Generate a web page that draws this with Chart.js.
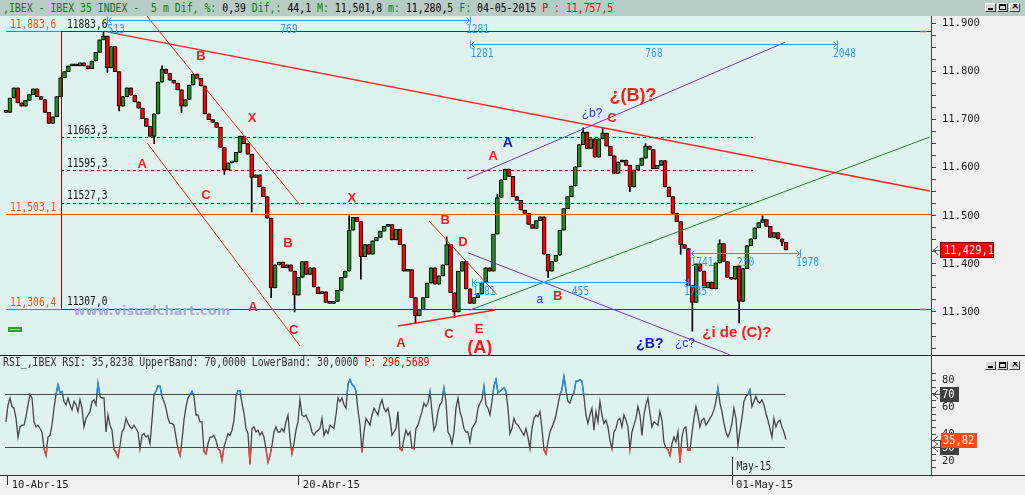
<!DOCTYPE html>
<html lang="es">
<head>
<meta charset="utf-8">
<title>IBEX 35 - 5 m</title>
<script src="https://cdn.jsdelivr.net/npm/chart.js@4.4.1/dist/chart.umd.min.js"></script>
<style>
  html, body { margin:0; padding:0; }
  body { width:1025px; height:495px; overflow:hidden; position:relative; background:#f0f0f0; }
  #hdr { position:absolute; left:0; top:0; width:1025px; height:16px; background:#b8ccc6; }
  .txt { position:absolute; white-space:pre; font-family:"DejaVu Sans Mono", monospace; font-size:12px; line-height:14px; transform:scaleX(0.82); transform-origin:0 0; }
  .g { color:#008000; } .k { color:#000; } .r { color:#ff0000; } .d { color:#333; }
  canvas { position:absolute; left:0; display:block; }
  #c1 { top:16px; width:1025px; height:339px; }
  #c2 { top:356px; width:1025px; height:139px; }
  #sep { position:absolute; left:0; top:355px; width:1025px; height:1px; background:#222; }
  .btn { position:absolute; width:9px; height:7px; background:#d8d8d8; border:1px solid; border-color:#fff #404040 #404040 #fff; overflow:hidden; }
</style>
</head>
<body>
<div id="hdr"></div>
<div class="txt" style="left:3px;top:1px"><span class="g">,IBEX - IBEX 35 INDEX -  5 m Dif, %:</span><span class="k"> 0,39</span><span class="g"> Dif,:</span><span class="k"> 44,1</span><span class="g"> M:</span><span class="k"> 11,501,8</span><span class="g"> m:</span><span class="k"> 11,280,5</span><span class="g"> F:</span><span class="k"> 04-05-2015</span><span class="r"> P : 11,757,5</span></div>
<div class="btn" style="left:985px;top:3px"><div style="position:absolute;left:2px;top:4px;width:5px;height:2px;background:#000"></div></div>
<div class="btn" style="left:997px;top:3px"><div style="position:absolute;left:1px;top:0;width:5px;height:3px;border:1px solid #000;border-top-width:2px"></div></div>
<div class="btn" style="left:1009px;top:3px"><div style="position:absolute;left:1px;top:-4px;font:bold 10px 'DejaVu Sans';color:#000">×</div></div>
<canvas id="c1" width="1025" height="339"></canvas>
<div id="sep"></div>
<canvas id="c2" width="1025" height="139"></canvas>
<div class="txt d" style="left:3px;top:355px">RSI_,IBEX RSI: 35,8238 UpperBand: 70,0000 LowerBand: 30,0000 <span class="r">P: 296,5689</span></div>
<div class="btn" style="left:985px;top:361px"><div style="position:absolute;left:2px;top:4px;width:5px;height:2px;background:#000"></div></div>
<div class="btn" style="left:997px;top:361px"><div style="position:absolute;left:1px;top:0;width:5px;height:3px;border:1px solid #000;border-top-width:2px"></div></div>
<div class="btn" style="left:1009px;top:361px"><div style="position:absolute;left:1px;top:-4px;font:bold 10px 'DejaVu Sans';color:#000">×</div></div>

<script>
// ---------------- DATA ----------------
const openStart = 11718;
const close = [
  11715, 11745, 11766, 11735, 11728, 11740, 11752, 11764, 11748, 11742,
  11715, 11692, 11706, 11748, 11787, 11800, 11812, 11815, 11812, 11818,
  11812, 11806, 11822, 11840, 11866, 11874, 11808, 11852, 11800, 11728,
  11748, 11766, 11751, 11737, 11724, 11702, 11686, 11665, 11712, 11778,
  11805, 11796, 11782, 11776, 11762, 11728, 11742, 11772, 11795, 11786,
  11770, 11712, 11700, 11694, 11684, 11642, 11596, 11610, 11612, 11632,
  11666, 11650, 11628, 11580, 11585, 11560, 11540, 11495, 11350, 11398,
  11404, 11392, 11398, 11385, 11335, 11372, 11405, 11378, 11392, 11352,
  11338, 11342, 11320, 11318, 11322, 11345, 11372, 11385, 11470, 11497,
  11488, 11415, 11440, 11420, 11448, 11455, 11468, 11478, 11482, 11450,
  11472, 11440, 11385, 11388, 11330, 11292, 11305, 11330, 11360, 11392,
  11358, 11375, 11398, 11440, 11340, 11300, 11385, 11405, 11348, 11318,
  11330, 11338, 11362, 11392, 11385, 11462, 11538, 11575, 11597, 11582,
  11540, 11532, 11512, 11505, 11482, 11474, 11490, 11498, 11420, 11385,
  11405, 11418, 11470, 11515, 11540, 11562, 11602, 11648, 11674, 11640,
  11660, 11622, 11660, 11672, 11645, 11625, 11588, 11612, 11616, 11605,
  11560, 11595, 11605, 11620, 11645, 11638, 11598, 11605, 11615, 11560,
  11540, 11505, 11488, 11440, 11432, 11355, 11320, 11400, 11385, 11350,
  11362, 11348, 11402, 11442, 11405, 11372, 11368, 11395, 11322, 11390,
  11438, 11452, 11475, 11486, 11492, 11478, 11455, 11465, 11452, 11445,
  11429.1
];
// notable wick extremes [bar index, price]
const wickHigh = [[25,11883.6],[40,11812],[88,11500],[113,11456],[126,11545],[148,11683],[153,11684],[164,11650],[183,11450],[194,11500]];
const wickLow = [[26,11798],[29,11718],[38,11650],[45,11715],[56,11586],[63,11508],[68,11330],[74,11300],[91,11368],[105,11276],[115,11288],[125,11398],[139,11372],[160,11550],[173,11420],[176,11260],[188,11277],[199,11438]];
// RSI samples (1.95 samples per price bar)
const rsiPerBar = 1.95;
const rsi = [
  49.2, 61.9, 67, 60.6, 59.4, 51.8, 37.8, 45.4, 46.7, 46.7,
  53, 61.9, 69.5, 67, 49.2, 45.4, 46.7, 44.2, 41.6, 29,
  23.9, 37.8, 39.1, 46.7, 59.4, 69.5, 77.1, 70.8, 72, 64.4,
  61.9, 67, 61.9, 58.1, 64.4, 61.9, 56.8, 65.7, 59.4, 45.4,
  51.8, 54.3, 56.8, 64.4, 65.7, 61.9, 78.4, 68.2, 67, 67,
  41.6, 54.3, 46.7, 42.9, 28.5, 26.5, 22.7, 31.5, 41.6, 44.2,
  51.8, 48, 45.4, 44.2, 46.7, 44.2, 41.6, 29, 39.1, 40.4,
  37.8, 39.1, 32.8, 50.5, 69.5, 72, 75.8, 75.8, 68.2, 64.4,
  59.4, 51.8, 48, 48, 46.7, 37.8, 29, 23.9, 35.3, 50.5,
  60.6, 67, 69.5, 72, 68.2, 54.3, 54.3, 49.2,
  49.2, 27, 25.2, 32.8, 37.8, 37.8, 39.1, 35.3, 29, 27.7,
  20.1, 30.3, 35.3, 40.4, 39.1, 42.9, 50.5, 68.2, 72.5, 72.5,
  63.2, 55.6, 44.2, 40.4, 17.6, 44.2, 45.4, 41.6, 42.9, 39.1,
  41.6, 37.8, 29, 18.9, 23.9, 31.5, 41.6, 45.4, 41.6, 41.6,
  44.2, 41.6, 49.2, 54.3, 36.6, 25.2, 32.8, 42.9, 49.2, 65.7,
  54.3, 53, 54.3, 50.5, 48, 41.6, 39.1, 41.6, 42.9, 44.2,
  51.8, 39.1, 42.9, 40.4, 46.7, 45.4, 44.2, 54.3, 67, 64.4,
  67, 61.9, 59.4, 77.1, 80.9, 77.1, 75.8, 72, 58.1, 46.7,
  26.5, 41.6, 51.8, 49.2, 46.7, 54.3, 59.4, 56.8, 54.3, 61.9,
  65.7, 59.4, 56.8, 59.4, 51.8, 39.1, 41.6,
  44.2, 56.8, 29, 27.7, 36.6, 42.9, 39.1, 41.6, 29.5, 29,
  44.2, 46.7, 51.8, 56.8, 63.2, 60.6, 63.2, 72, 56.8, 42.9,
  46.7, 56.8, 61.9, 64.4, 74.6, 64.4, 41.6, 39.1, 32.8, 41.6,
  59.4, 67, 56.8, 51.8, 44.2, 41.6, 41.6, 34.1, 44.2, 46.7,
  49.2, 59.4, 63.2, 65.7, 75.8, 61.9, 59.4, 54.3, 64.4, 75.8,
  80.9, 70.8, 72, 73.3, 74.6, 72, 59.4, 40.4, 44.2, 51.8,
  48, 46.7, 44.2, 41.6, 39.1, 44.2, 37.8, 29, 44.2, 51.8,
  54.3, 53, 56.8, 44.2, 28, 25.2, 34.1, 41.6, 45.4, 49.2,
  54.3, 61.9, 69.5, 73.3, 83.4, 73.3, 64.4, 63.2, 68.2, 70.8,
  79.6, 79.6, 80.9, 79.6, 68.2, 54.3, 48, 54.3,
  59.4, 42.9, 56.8, 49.2, 64.4, 54.3, 48, 50.5, 45.4, 35.3,
  29, 41.6, 44.2, 50.5, 51.8, 45.4, 54.3, 50.5, 45.4, 28.5,
  41.6, 46.7, 51.8, 60.6, 54.3, 39.1, 54.3, 61.9, 67, 55.6,
  45.4, 49.2, 48, 46.7, 56.8, 50.5, 34.1, 29.5, 28.5, 23.9,
  32.8, 37.8, 34.1, 41.6, 18.9, 37.8, 44.2, 45.4, 28, 27.7,
  40.4, 51.8, 60.6, 54.3, 45.4, 50.5, 51.8, 46.7, 49.2, 51.8,
  54.3, 58.1, 64.4, 74.6, 63.2, 56.8, 48, 41.6, 37.8, 41.6,
  48, 59.4, 51.8, 31.5, 42.9, 51.8, 64.4, 68.2, 69.5, 73.3,
  60.6, 64.4, 68.2, 64.4, 63.2, 65.7, 61.9, 55.6, 50.5, 44.2,
  37.8, 51.8, 45.4, 49.2, 50.5, 45.4, 41.6, 35.82
];
const dateLabels = ['10-Abr-15', '20-Abr-15', '01-May-15'];
const datePos = [0.46, 75.1, 186.2];
const monthLabel = 'May-15';
const priceMajor = [11300, 11400, 11500, 11600, 11700, 11800, 11900];
const priceMinorStep = 25;
const rsiMajor = [20, 40, 60, 80];
const rsiBands = [70, 30];
const fibLevels = [11883.6, 11663.3, 11595.3, 11527.3, 11307.0];
const refLevels = [11883.6, 11503.1, 11306.4];
const measures = [
  {y: 11907.3, x1: 25.9,  x2: 119.0, t: ['513', '769', '1281']},
  {y: 11857.4, x1: 119.0, x2: 213.1, t: ['1281', '768', '2048']},
  {y: 11362.4, x1: 119.5, x2: 174.9, t: ['1281', '455', '1735']},
  {y: 11422.7, x1: 175.4, x2: 203.6, t: ['1741', '230', '1970']}
];
const waveLabels = [
  ['B', 50.0, 11832.4, 'r'], ['X', 63.1, 11703.5, 'r'], ['A', 34.9, 11607.8, 'r'], ['C', 51.3, 11543.3, 'r'],
  ['X', 88.7, 11537.1, 'r'], ['B', 72.3, 11443.5, 'r'], ['A', 63.3, 11310.4, 'r'], ['C', 73.8, 11262.5, 'r'],
  ['B', 112.6, 11491.3, 'r'], ['D', 117.2, 11445.5, 'r'], ['A', 101.3, 11235.5, 'r'], ['C', 113.6, 11254.2, 'r'],
  ['E', 121.3, 11264.6, 'r'], ['(A)', 121.5, 11225.1, 'R'], ['A', 124.9, 11624.4, 'r'], ['A', 128.7, 11651.4, 'b'],
  ['¿b?', 150.3, 11711.8, 's'], ['C', 155.4, 11703.5, 'r'], ['¿(B)?', 160.8, 11749.2, 'R'], ['a', 136.9, 11324.9, 's'],
  ['B', 141.5, 11333.2, 'r'], ['¿B?', 165.1, 11233.4, 'b'], ['¿c?', 174.1, 11233.4, 's'], ['¿i de (C)?', 187.4, 11256.3, 'M']
];

// ---------------- STYLE ----------------
const MINT = '#dff3ee', ORANGE = '#ff5000', DARKRED = '#a00000', UPC = '#1e901e', DNC = '#ff0000';
const BLUE = '#3399ff', PURPLE = '#7b2fbe', LGREEN = '#1f8a1f', LRED = '#ff2020';
const RSI_GRAY = '#454545', RSI_HI = '#1e8fff', RSI_LO = '#ff3b3b';
const XMIN = -1.54, XMAX = 237.2;
const monoFont = {family: 'DejaVu Sans Mono', size: 10.5};
const labelStyles = {
  r: ['bold 13px "Liberation Sans"', '#ff1a1a'],
  R: ['bold 18px "Liberation Sans"', '#ff1a1a'],
  M: ['bold 15px "Liberation Sans"', '#ff1a1a'],
  b: ['bold 14px "Liberation Sans"', '#1010e0'],
  s: ['12px "Liberation Sans"', '#2a2aff']
};
const segs = [
  [0, refLevels[0], 14.1, refLevels[0], ORANGE, 1],
  [0, refLevels[2], 14.1, refLevels[2], ORANGE, 1],
  [0, refLevels[1], XMAX, refLevels[1], ORANGE, 1],
  [14.1, fibLevels[0], XMAX, fibLevels[0], DARKRED, 1],
  [14.1, fibLevels[4], XMAX, fibLevels[4], DARKRED, 1],
  [14.1, fibLevels[1], 191.5, fibLevels[1], DARKRED, 1, [3, 3]],
  [14.1, fibLevels[2], 191.5, fibLevels[2], DARKRED, 1, [3, 3]],
  [14.1, fibLevels[3], 191.5, fibLevels[3], DARKRED, 1, [3, 3]],
  [14.1, fibLevels[4], 14.1, fibLevels[0], DARKRED, 1],
  [234.4, refLevels[0], 236.2, refLevels[0], ORANGE, 1.5],
  [234.4, refLevels[2], 236.2, refLevels[2], ORANGE, 1.5],
  [25.9, 11882.5, 236.9, 11551.6, LRED, 1.3],
  [32.8, 11948.9, 75.4, 11522.5, LRED, 1],
  [36.2, 11651.5, 75.4, 11229.2, LRED, 1],
  [108.5, 11489, 125.9, 11336, LRED, 1],
  [100.5, 11271, 125.4, 11304, LRED, 1.5],
  [118.2, 11576.6, 199.7, 11860.7, PURPLE, 1],
  [118.5, 11423, 185.6, 11211, PURPLE, 1],
  [119, 11304, 236.9, 11664, LGREEN, 1]
];

// ---------------- HELPERS ----------------
const open = close.map((c, k) => (k === 0 ? openStart : close[k - 1]));
const hi = close.map((c, k) => Math.max(c, open[k]));
const lo = close.map((c, k) => Math.min(c, open[k]));
wickHigh.forEach(([k, v]) => { hi[k] = Math.max(hi[k], v); });
wickLow.forEach(([k, v]) => { lo[k] = Math.min(lo[k], v); });
const fmtLevel = v => v.toFixed(1).replace('.', ',');
const fmtPrice = v => { const s = v.toFixed(1).replace('.', ','); return s.slice(0, 2) + ',' + s.slice(2); };

function cText(ctx, s, x, y, color, align, size) {
  ctx.save();
  ctx.translate(x, y);
  ctx.scale(0.8, 1);
  ctx.font = (size || 12) + 'px "DejaVu Sans Mono"';
  ctx.fillStyle = color;
  ctx.textAlign = align || 'left';
  ctx.textBaseline = 'middle';
  ctx.fillText(s, 0, 0);
  ctx.restore();
}
function fillArea(chart) {
  const {ctx, chartArea: a} = chart;
  ctx.save();
  ctx.fillStyle = MINT;
  ctx.fillRect(a.left, a.top, a.right - a.left, a.bottom - a.top);
  ctx.restore();
}
function leftArrow(ctx, x, y, color) {
  ctx.save();
  ctx.strokeStyle = color; ctx.lineWidth = 1;
  ctx.beginPath();
  ctx.moveTo(x + 6, y - 3.5); ctx.lineTo(x + 1, y + 0.5); ctx.lineTo(x + 6, y + 4.5);
  ctx.moveTo(x + 1, y + 0.5); ctx.lineTo(x + 8, y + 0.5);
  ctx.stroke();
  ctx.restore();
}

// ---------------- MAIN PRICE PANEL ----------------
const mainOverlay = {
  id: 'mainOverlay',
  beforeDraw: fillArea,
  afterDatasetsDraw(chart) {
    const {ctx, chartArea: a, scales: {x, y}} = chart;
    const X = v => x.getPixelForValue(v), Y = v => y.getPixelForValue(v);
    ctx.save();
    ctx.beginPath(); ctx.rect(a.left, a.top, a.right - a.left, a.bottom - a.top); ctx.clip();
    for (const L of segs) {
      ctx.strokeStyle = L[4]; ctx.lineWidth = L[5] || 1; ctx.setLineDash(L[6] || []);
      let y1 = Y(L[1]), y2 = Y(L[3]), x1 = X(L[0]), x2 = X(L[2]);
      if (L[1] === L[3]) { y1 = y2 = Math.round(y1) + 0.5; }
      if (L[0] === L[2]) { x1 = x2 = Math.round(x1) + 0.5; }
      ctx.beginPath(); ctx.moveTo(x1, y1); ctx.lineTo(x2, y2); ctx.stroke();
    }
    ctx.setLineDash([]);
    for (const m of measures) {
      const x1 = Math.round(X(m.x1)) + 0.5, x2 = Math.round(X(m.x2)) + 0.5, yy = Math.round(Y(m.y)) + 0.5;
      ctx.strokeStyle = BLUE; ctx.lineWidth = 1;
      ctx.beginPath();
      ctx.moveTo(x1, yy); ctx.lineTo(x2, yy);
      ctx.moveTo(x1, yy - 4); ctx.lineTo(x1, yy + 4);
      ctx.moveTo(x2, yy - 4); ctx.lineTo(x2, yy + 4);
      ctx.moveTo(x1 + 4, yy - 3); ctx.lineTo(x1 + 1, yy); ctx.lineTo(x1 + 4, yy + 3);
      ctx.moveTo(x2 - 4, yy - 3); ctx.lineTo(x2 - 1, yy); ctx.lineTo(x2 - 4, yy + 3);
      ctx.stroke();
      cText(ctx, m.t[0], x1, yy + 9.5, BLUE, 'left');
      cText(ctx, m.t[1], (x1 + x2) / 2, yy + 9.5, BLUE, 'center');
      cText(ctx, m.t[2], x2 - 4.5, yy + 9.5, BLUE, 'left');
    }
    for (const v of fibLevels) cText(ctx, fmtLevel(v), X(14.1) + 6, Y(v) - 6.5, '#111', 'left');
    for (const v of refLevels) cText(ctx, fmtPrice(v), a.left + 10, Y(v) - 6.5, ORANGE, 'left');
    ctx.font = 'bold 13px "DejaVu Sans"';
    ctx.fillStyle = '#a9a9d8'; ctx.textAlign = 'center'; ctx.textBaseline = 'middle';
    ctx.fillText('www.visualchart.com', X(37.4), Y(11300));
    ctx.fillStyle = '#2e9e2e'; ctx.fillRect(a.left + 8, a.bottom - 28, 14, 5);
    ctx.fillStyle = '#9ee09e'; ctx.fillRect(a.left + 10, a.bottom - 26, 10, 1);
    for (const [t, i, p, st] of waveLabels) {
      ctx.font = labelStyles[st][0]; ctx.fillStyle = labelStyles[st][1];
      ctx.textAlign = 'center'; ctx.textBaseline = 'middle';
      ctx.fillText(t, X(i), Y(p));
    }
    ctx.restore();
    const last = close[close.length - 1];
    const py = Math.round(Y(last));
    ctx.save();
    ctx.fillStyle = '#ff0000';
    ctx.fillRect(a.right + 9, py - 8, 54, 16);
    ctx.strokeStyle = '#700000'; ctx.lineWidth = 1;
    ctx.strokeRect(a.right + 9.5, py - 7.5, 53, 15);
    ctx.restore();
    cText(ctx, fmtPrice(last), a.right + 13, py + 0.5, '#ffffff', 'left', 13);
    leftArrow(ctx, a.right + 1, py, '#555');
  }
};

const yTicks = [];
for (let v = priceMajor[0] - 3 * priceMinorStep; v <= priceMajor[priceMajor.length - 1]; v += priceMinorStep) yTicks.push(v);

new Chart(document.getElementById('c1'), {
  type: 'bar',
  data: {
    datasets: [
      {
        label: 'Cuerpo',
        data: close.map((c, k) => ({x: k, y: [open[k], c]})),
        backgroundColor: close.map((c, k) => (c >= open[k] ? UPC : DNC)),
        borderColor: '#000', borderWidth: 1, borderSkipped: false,
        barThickness: 4, grouped: false, order: 1, minBarLength: 2
      },
      {
        label: 'Mecha',
        data: close.map((c, k) => ({x: k, y: [lo[k], hi[k]]})),
        backgroundColor: '#000', borderWidth: 0,
        barThickness: 1, grouped: false, order: 2
      }
    ]
  },
  options: {
    animation: false, responsive: false, maintainAspectRatio: false,
    layout: {padding: 0},
    plugins: {legend: {display: false}, tooltip: {enabled: false}, title: {display: false}},
    scales: {
      x: {type: 'linear', min: XMIN, max: XMAX, offset: false, display: false, bounds: 'data'},
      y: {
        position: 'right', min: 11210.5, max: 11915.6, bounds: 'data',
        afterFit: s => { s.width = 94; s.paddingTop = 0; s.paddingBottom = 0; },
        afterBuildTicks: s => { s.ticks = yTicks.map(v => ({value: v})); },
        ticks: {
          autoSkip: false, padding: 6, color: '#222', font: monoFont,
          callback: v => (priceMajor.includes(v) ? (v / 1000).toFixed(3) : '')
        },
        grid: {drawOnChartArea: false, drawTicks: true, tickLength: 5, tickColor: '#444'},
        border: {display: true, color: '#444'}
      }
    }
  },
  plugins: [mainOverlay]
});

// ---------------- RSI PANEL ----------------
const rsiOverlay = {
  id: 'rsiOverlay',
  beforeDraw: fillArea,
  beforeDatasetsDraw(chart) {
    const {ctx, scales: {x, y}} = chart;
    ctx.save();
    ctx.strokeStyle = '#4a4a4a'; ctx.lineWidth = 1;
    for (const b of rsiBands) {
      const yy = Math.round(y.getPixelForValue(b)) + 0.5;
      ctx.beginPath(); ctx.moveTo(x.getPixelForValue(-0.26), yy); ctx.lineTo(x.getPixelForValue(199.7), yy); ctx.stroke();
    }
    ctx.restore();
  },
  afterDatasetsDraw(chart) {
    // recolour the parts of the library-drawn RSI line that lie beyond the bands
    const {ctx, chartArea: a, scales: {y}} = chart;
    const pts = chart.getDatasetMeta(0).data;
    const overdraw = (top, bottom, color) => {
      ctx.save();
      ctx.beginPath(); ctx.rect(a.left, top, a.right - a.left, bottom - top); ctx.clip();
      ctx.strokeStyle = color; ctx.lineWidth = 1.3; ctx.lineJoin = 'round';
      ctx.beginPath();
      pts.forEach((p, i) => (i ? ctx.lineTo(p.x, p.y) : ctx.moveTo(p.x, p.y)));
      ctx.stroke();
      ctx.restore();
    };
    overdraw(a.top, y.getPixelForValue(rsiBands[0]), RSI_HI);
    overdraw(y.getPixelForValue(rsiBands[1]), a.bottom, RSI_LO);
  },
  afterDraw(chart) {
    const {ctx, chartArea: a, scales: {x, y}} = chart;
    ctx.save();
    ctx.strokeStyle = '#333'; ctx.lineWidth = 1;
    ctx.beginPath(); ctx.moveTo(0, a.bottom + 0.5); ctx.lineTo(chart.width, a.bottom + 0.5); ctx.stroke();
    const mx = Math.round(x.getPixelForValue(datePos[2])) + 0.5;
    ctx.beginPath(); ctx.moveTo(mx, a.bottom - 18); ctx.lineTo(mx, a.bottom); ctx.stroke();
    ctx.restore();
    cText(ctx, monthLabel, mx + 4, a.bottom - 8, '#222', 'left');
    for (const b of rsiBands) {
      const yy = Math.round(y.getPixelForValue(b));
      ctx.save();
      ctx.fillStyle = '#404040'; ctx.fillRect(a.right + 9, yy - 7, 19, 15);
      ctx.restore();
      cText(ctx, String(b), a.right + 11, yy + 0.5, '#ffffff', 'left', 13);
      leftArrow(ctx, a.right + 1, yy, '#555');
    }
    const lastR = rsi[rsi.length - 1];
    const ry = Math.round(y.getPixelForValue(lastR));
    ctx.save();
    ctx.fillStyle = '#ff4a14'; ctx.fillRect(a.right + 10, ry - 7, 36, 15);
    ctx.restore();
    cText(ctx, lastR.toFixed(2).replace('.', ','), a.right + 12, ry + 0.5, '#ffffff', 'left', 13);
    leftArrow(ctx, a.right + 1, ry, '#555');
  }
};

const rsiTicks = [];
for (let v = 15; v <= 85; v += 5) rsiTicks.push(v);

new Chart(document.getElementById('c2'), {
  type: 'line',
  data: {
    datasets: [{
      label: 'RSI',
      data: rsi.map((r, j) => ({x: j / rsiPerBar, y: r})),
      borderColor: RSI_GRAY, borderWidth: 1.3, pointRadius: 0, tension: 0
    }]
  },
  options: {
    animation: false, responsive: false, maintainAspectRatio: false,
    layout: {padding: 0},
    plugins: {legend: {display: false}, tooltip: {enabled: false}, title: {display: false}},
    scales: {
      x: {
        type: 'linear', min: XMIN, max: XMAX, position: 'bottom', bounds: 'data', offset: false,
        afterFit: s => { s.height = 20; s.paddingLeft = 0; s.paddingRight = 0; },
        afterBuildTicks: s => { s.ticks = datePos.map(v => ({value: v})); },
        ticks: {
          autoSkip: false, maxRotation: 0, minRotation: 0, align: 'start', labelOffset: 4, padding: -6,
          color: '#222', font: monoFont,
          callback: (v, idx) => dateLabels[idx]
        },
        grid: {drawOnChartArea: false, drawTicks: true, tickLength: 10, tickColor: '#333'},
        border: {display: true, color: '#333'}
      },
      y: {
        position: 'right', min: 9.44, max: 98.4, bounds: 'data',
        afterFit: s => { s.width = 94; s.paddingTop = 0; s.paddingBottom = 0; },
        afterBuildTicks: s => { s.ticks = rsiTicks.map(v => ({value: v})); },
        ticks: {
          autoSkip: false, padding: 6, color: '#222', font: monoFont,
          callback: v => (rsiMajor.includes(v) ? String(v) : '')
        },
        grid: {drawOnChartArea: false, drawTicks: true, tickLength: 5, tickColor: '#444'},
        border: {display: true, color: '#444'}
      }
    }
  },
  plugins: [rsiOverlay]
});
</script>
</body>
</html>
